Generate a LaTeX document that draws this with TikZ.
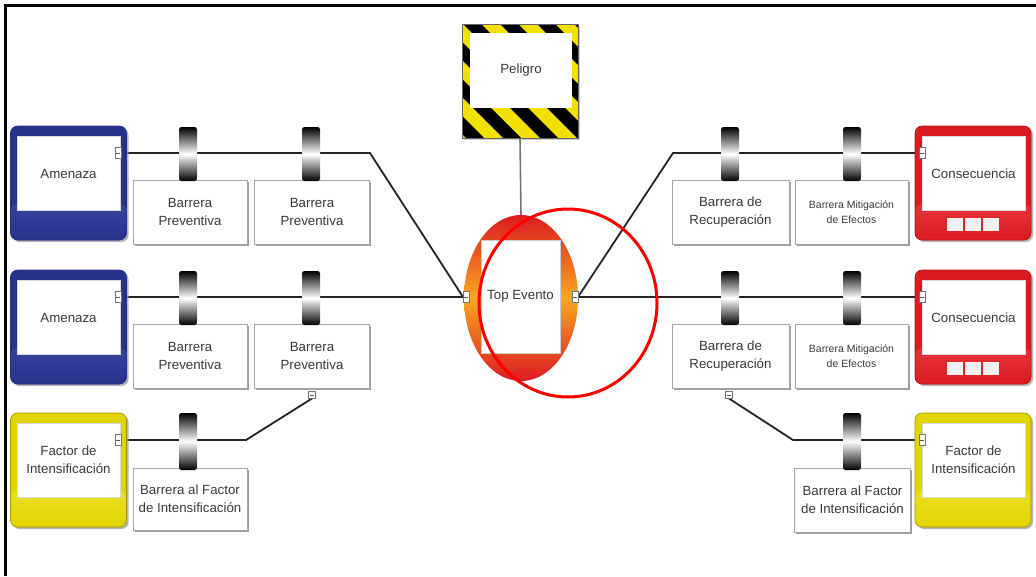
\documentclass[tikz,border=0pt]{standalone}
\usepackage{fontspec}
\setmainfont{Liberation Sans}
\usetikzlibrary{shadows,backgrounds,shapes.geometric}

\definecolor{ink}{HTML}{3A3A3A}
\definecolor{navy}{HTML}{27318A}
\definecolor{navylight}{HTML}{5A6BCB}
\definecolor{conred}{HTML}{DC1A22}
\definecolor{conredlight}{HTML}{F46A6A}
\definecolor{facyel}{HTML}{E2D400}
\definecolor{facyellight}{HTML}{FFF46A}
\definecolor{hazyel}{HTML}{F2E000}
\definecolor{topor}{HTML}{F8A820}

\begin{document}
\begin{tikzpicture}[x=1pt,y=-1pt,
  every node/.style={inner sep=0pt, outer sep=0pt, text=ink,
    font=\fontsize{13.3}{18}\selectfont},
  boxshadow/.style={drop shadow={shadow xshift=2pt, shadow yshift=-2pt,
    fill=black!40, opacity=0.7}},
  % a rounded frame whose lower band fades from #1 (top) to #2 (bottom)
  frame/.style 2 args={rounded corners=7pt, minimum width=116pt,
    minimum height=114pt, boxshadow, fill=#2,
    path picture={\shade[top color=#1, bottom color=#2]
      (path picture bounding box.south west) rectangle
      ([yshift=36pt]path picture bounding box.south east);}},
  threat/.style={frame={navylight}{navy}, draw=navy, line width=0.6pt},
  conseq/.style={frame={conredlight}{conred}, draw=conred!80!black, line width=0.6pt},
  factor/.style={frame={facyellight}{facyel}, draw=facyel!70!black, line width=0.6pt},
  pane/.style={fill=white, draw=black!15, line width=0.4pt,
    minimum width=103pt, minimum height=74pt, align=center},
  cell/.style={fill=black!6, minimum width=16pt, minimum height=13pt},
  barrier/.style={rounded corners=2.5pt, minimum width=18pt, minimum height=54pt,
    top color=black, bottom color=black, middle color=white},
  bbox/.style={fill=white, draw=black!35, line width=0.5pt, minimum height=64pt,
    align=center, drop shadow={shadow xshift=1.5pt, shadow yshift=-2pt,
    fill=black!55, opacity=0.7}},
  small/.style={font=\fontsize{10.5}{15}\selectfont},
  tab/.style={fill=white, draw=black!55, line width=0.5pt,
    minimum width=6pt, minimum height=11pt,
    path picture={\draw[black!65, line width=0.6pt]
      ([xshift=-1.6pt]path picture bounding box.center) --
      ([xshift=1.6pt]path picture bounding box.center);}},
  link/.style={draw=black!85, line width=1.8pt},
]
\useasboundingbox (0,0) rectangle (1036,576);
\begin{scope}[on background layer]
  \fill[white] (0,0) rectangle (1036,576);
\end{scope}
\draw[line width=3pt] (5.5,576) -- (5.5,5.5) -- (1036,5.5);

% ---------- hazard ----------
\node[minimum width=116pt, minimum height=114pt, fill=hazyel,
  draw=black!60, line width=0.5pt,
  path picture={
    \foreach \s in {-6,...,6}
      \fill[black] ({\s*37-100},-100) -- ({\s*37-82},-100)
        -- ({\s*37+118},100) -- ({\s*37+100},100) -- cycle;},
  drop shadow={shadow xshift=1.5pt, shadow yshift=-2pt, fill=black!40}]
  (haz) at (520,81) {};
\node[fill=white, minimum width=102pt, minimum height=75pt] (hazw) at (521,70.5) {Peligro};

% ---------- top event ----------
\node[ellipse, minimum width=114pt, minimum height=166pt,
  top color=conred, bottom color=conred, middle color=topor] (te) at (521,298) {};
\node[fill=white, draw=black!20, line width=0.4pt, minimum width=79pt,
  minimum height=113pt] (tew) at (520.5,296.5) {Top Evento};
\node[tab] (tel) at (466,297) {};
\node[tab] (ter) at (575,297) {};

% ---------- threats (left) ----------
\node[threat] (am1) at (68.5,183) {};
\node[pane] (am1w) at (68.5,173.5) {Amenaza};
\node[tab] (am1t) at (118,153) {};

\node[threat] (am2) at (68.5,327) {};
\node[pane] (am2w) at (68.5,317.5) {Amenaza};
\node[tab] (am2t) at (118,297) {};

\node[factor] (fl) at (68.5,470) {};
\node[pane] (flw) at (68.5,460) {Factor de\\Intensificación};
\node[tab] (flt) at (118,440) {};

% ---------- consequences (right) ----------
\node[conseq] (cs1) at (973,183) {};
\node[pane] (cs1w) at (973.5,173.5) {Consecuencia};
\node[cell] (cs1a) at (955,224.5) {};
\node[cell] (cs1b) at (973,224.5) {};
\node[cell] (cs1c) at (991,224.5) {};
\node[tab] (cs1t) at (922,153) {};

\node[conseq] (cs2) at (973,327) {};
\node[pane] (cs2w) at (973.5,317.5) {Consecuencia};
\node[cell] (cs2a) at (955,368.5) {};
\node[cell] (cs2b) at (973,368.5) {};
\node[cell] (cs2c) at (991,368.5) {};
\node[tab] (cs2t) at (922,297) {};

\node[factor] (fr) at (973,470) {};
\node[pane] (frw) at (973.5,460) {Factor de\\Intensificación};
\node[tab] (frt) at (922,440) {};

% ---------- barrier labels ----------
\node[bbox, minimum width=114pt] (p11) at (190,212) {Barrera\\Preventiva};
\node[bbox, minimum width=115pt] (p12) at (312,212) {Barrera\\Preventiva};
\node[bbox, minimum width=114pt] (p21) at (190,356) {Barrera\\Preventiva};
\node[bbox, minimum width=115pt] (p22) at (312,356) {Barrera\\Preventiva};
\node[bbox, minimum width=114pt, minimum height=62pt] (pf) at (190,499) {Barrera al Factor\\de Intensificación};

\node[bbox, minimum width=117pt] (r11) at (730.5,212) {Barrera de\\Recuperación};
\node[bbox, minimum width=113pt, small] (r12) at (851.5,212) {Barrera Mitigación\\de Efectos};
\node[bbox, minimum width=117pt] (r21) at (730.5,356) {Barrera de\\Recuperación};
\node[bbox, minimum width=113pt, small] (r22) at (851.5,356) {Barrera Mitigación\\de Efectos};
\node[bbox, minimum width=116pt, minimum height=64pt] (rf) at (852.5,500) {Barrera al Factor\\de Intensificación};

\node[tab, minimum width=7pt, minimum height=7pt] (p22t) at (312,395) {};
\node[tab, minimum width=7pt, minimum height=7pt] (r21t) at (729,395) {};

% ---------- barrier rings ----------
\node[barrier] (g11) at (188,154) {};
\node[barrier] (g12) at (311,154) {};
\node[barrier] (g21) at (188,298) {};
\node[barrier] (g22) at (311,298) {};
\node[barrier, minimum height=57pt] (gf) at (188,441.5) {};
\node[barrier] (h11) at (730,154) {};
\node[barrier] (h12) at (852,154) {};
\node[barrier] (h21) at (730,298) {};
\node[barrier] (h22) at (852,298) {};
\node[barrier, minimum height=57pt] (hf) at (852,441.5) {};

% ---------- connectors ----------
\coordinate (bl1) at (370,153);
\coordinate (bl3) at (246,440);
\coordinate (br1) at (673,153);
\coordinate (br3) at (793,440);
\begin{scope}[on background layer]
  \draw[link] (am1t.east) -- (bl1) -- (tel.west);
  \draw[link] (am2t.east) -- (tel.west);
  \draw[link] (flt.east) -- (bl3) -- (p22t.south);
  \draw[link] (ter.east) -- (br1) -- (cs1t.west);
  \draw[link] (ter.east) -- (cs2t.west);
  \draw[link] (r21t.south) -- (br3) -- (frt.west);
  \draw[draw=black!55, line width=1.6pt] (haz.south) -- (te.north);
\end{scope}

% ---------- highlight ----------
\node[ellipse, draw=red, line width=3pt, minimum width=178pt,
  minimum height=188pt] (mark) at (568,303) {};
\end{tikzpicture}
\end{document}
